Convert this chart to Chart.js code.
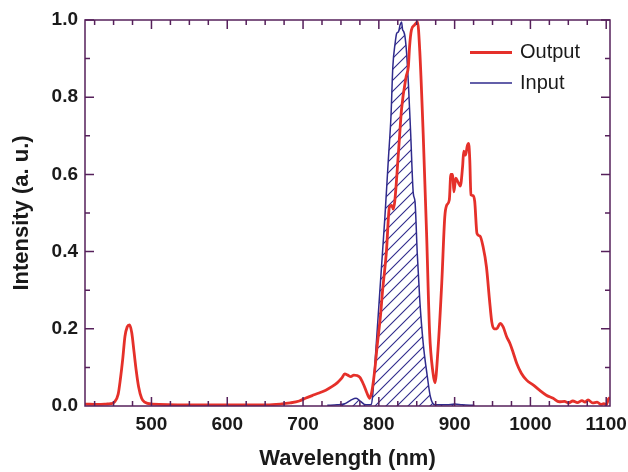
<!DOCTYPE html>
<html lang="en">
<head>
<meta charset="UTF-8">
<title>Output / Input spectrum</title>
<script src="https://cdn.jsdelivr.net/npm/chart.js"></script>
<style>
    html, body { margin: 0; padding: 0; background: #fff; }
    #wrap { width: 628px; height: 472px; position: relative; }
</style>
</head>
<body>
<div id="wrap"><canvas id="spectrum"></canvas></div>
<script>
// values
const outputWavelength = [412, 430, 440, 446, 451, 456, 459, 462, 465, 468, 471, 474, 477, 480, 483, 487, 491, 501, 550, 602, 652, 670, 683, 695, 703, 712, 720, 730, 738, 745, 751, 755, 759, 763, 767, 771, 775, 780, 784, 788, 791, 795, 798, 802, 805, 810, 814, 817, 819, 821, 826, 830, 836, 839, 840.5, 843, 847, 851, 854, 858.5, 863, 867, 871.5, 874, 878, 883, 887, 889.5, 893, 895, 897.5, 899, 901.5, 904.5, 907.5, 910.5, 912, 914.5, 916.5, 918.5, 920, 921.5, 924.5, 926.5, 929.5, 933.5, 937.5, 942, 946, 949, 952, 955.5, 960, 964, 968.5, 973, 977, 982, 988, 995, 1004, 1012, 1021, 1030, 1038, 1045, 1050, 1056, 1062, 1068, 1072, 1076, 1082, 1088, 1093, 1097, 1100, 1103, 1105];
const outputIntensity = [0.005, 0.004, 0.005, 0.006, 0.01, 0.03, 0.07, 0.12, 0.18, 0.205, 0.21, 0.19, 0.14, 0.09, 0.05, 0.02, 0.01, 0.005, 0.003, 0.003, 0.003, 0.005, 0.008, 0.013, 0.02, 0.027, 0.033, 0.041, 0.05, 0.06, 0.072, 0.083, 0.08, 0.076, 0.08, 0.079, 0.074, 0.055, 0.035, 0.02, 0.04, 0.10, 0.16, 0.23, 0.30, 0.40, 0.516, 0.52, 0.51, 0.53, 0.66, 0.77, 0.853, 0.88, 0.93, 0.974, 0.987, 0.995, 0.92, 0.706, 0.447, 0.19, 0.085, 0.06, 0.145, 0.318, 0.49, 0.52, 0.534, 0.60, 0.60, 0.555, 0.59, 0.58, 0.57, 0.62, 0.66, 0.65, 0.672, 0.68, 0.637, 0.547, 0.545, 0.53, 0.447, 0.44, 0.413, 0.36, 0.275, 0.218, 0.2, 0.2, 0.214, 0.205, 0.18, 0.162, 0.14, 0.11, 0.085, 0.067, 0.054, 0.041, 0.028, 0.02, 0.011, 0.012, 0.008, 0.013, 0.009, 0.014, 0.01, 0.016, 0.008, 0.01, 0.004, 0.006, 0.003, 0.018, 0.022];

const inputWavelength = [732, 745, 755, 763, 770, 776, 781, 786, 790, 792, 794.5, 799, 803.5, 808, 812.5, 816, 818.5, 821.5, 823.5, 826, 828, 830, 831.3, 832.8, 834.5, 836.7, 839, 842, 845.5, 847.7, 850.7, 854, 858.5, 864, 868, 874, 890, 900, 910, 926];
const inputIntensity = [0.002, 0.003, 0.006, 0.015, 0.02, 0.012, 0.004, 0.003, 0.004, 0.03, 0.10, 0.23, 0.36, 0.49, 0.637, 0.75, 0.88, 0.94, 0.965, 0.97, 0.987, 0.995, 0.975, 0.97, 0.957, 0.913, 0.835, 0.706, 0.55, 0.53, 0.395, 0.275, 0.163, 0.076, 0.024, 0.003, 0.003, 0.005, 0.003, 0.002];

const xTickLabels = [500, 600, 700, 800, 900, 1000, 1100];
const yTickLabels = [0, 0.2, 0.4, 0.6, 0.8, 1.0];

const axisColor = '#56205b';
const redLine = '#e5302a';
const blueLine = '#2f2a8c';
const fontFamily = '"Liberation Sans", Arial, Helvetica, sans-serif';

const canvas = document.getElementById('spectrum');
const ctx = canvas.getContext('2d');

function hatchPattern(color) {
    const size = 11;
    const tile = document.createElement('canvas');
    tile.width = size;
    tile.height = size;
    const g = tile.getContext('2d');
    g.strokeStyle = color;
    g.lineWidth = 1.1;
    g.beginPath();
    g.moveTo(0, size); g.lineTo(size, 0);
    g.moveTo(-1, 1); g.lineTo(1, -1);
    g.moveTo(size - 1, size + 1); g.lineTo(size + 1, size - 1);
    g.stroke();
    return ctx.createPattern(tile, 'repeat');
}

// box round the plot with inward ticks on all four sides
const frameTicks = {
    id: 'frameTicks',
    afterDatasetsDraw(chart) {
        const { ctx, chartArea: a, scales: { x, y } } = chart;
        ctx.save();
        ctx.strokeStyle = axisColor;
        ctx.lineWidth = 1.5;
        ctx.beginPath();
        for (let v = 425; v <= 1100; v += 25) {
            const px = x.getPixelForValue(v);
            const len = v % 100 === 0 ? 9 : 5;
            ctx.moveTo(px, a.bottom); ctx.lineTo(px, a.bottom - len);
            ctx.moveTo(px, a.top); ctx.lineTo(px, a.top + len);
        }
        for (let i = 1; i <= 10; i++) {
            const py = y.getPixelForValue(i / 10);
            const len = i % 2 === 0 ? 9 : 5;
            ctx.moveTo(a.left, py); ctx.lineTo(a.left + len, py);
            ctx.moveTo(a.right, py); ctx.lineTo(a.right - len, py);
        }
        ctx.stroke();
        ctx.strokeRect(a.left, a.top, a.right - a.left, a.bottom - a.top);
        ctx.restore();
    }
};

const innerLegend = {
    id: 'innerLegend',
    afterDraw(chart) {
        const ctx = chart.ctx;
        ctx.save();
        ctx.font = '20px ' + fontFamily;
        ctx.textBaseline = 'middle';
        ctx.fillStyle = '#1a1a1a';
        chart.data.datasets.forEach((ds, i) => {
            const yy = 52.5 + i * 30.5;
            ctx.strokeStyle = ds.borderColor;
            ctx.lineWidth = ds.borderWidth;
            ctx.beginPath();
            ctx.moveTo(470, yy);
            ctx.lineTo(512, yy);
            ctx.stroke();
            ctx.fillText(ds.label, 520, yy);
        });
        ctx.restore();
    }
};

new Chart(ctx, {
    type: 'line',
    data: {
        datasets: [
            {
                label: 'Output',
                data: outputWavelength.map((w, i) => ({ x: w, y: outputIntensity[i] })),
                borderColor: redLine,
                borderWidth: 2.8,
                pointRadius: 0,
                cubicInterpolationMode: 'monotone',
                fill: false
            },
            {
                label: 'Input',
                data: inputWavelength.map((w, i) => ({ x: w, y: inputIntensity[i] })),
                borderColor: blueLine,
                borderWidth: 1.5,
                pointRadius: 0,
                cubicInterpolationMode: 'monotone',
                fill: 'origin',
                backgroundColor: hatchPattern(blueLine)
            }
        ]
    },
    options: {
        responsive: true,
        maintainAspectRatio: false,
        animation: false,
        devicePixelRatio: 1,
        layout: { padding: { top: 20, right: 18, left: 0, bottom: 0 } },
        plugins: { legend: { display: false }, tooltip: { enabled: false } },
        scales: {
            x: {
                type: 'linear',
                min: 412.3,
                max: 1105,
                afterBuildTicks: s => { s.ticks = xTickLabels.map(v => ({ value: v })); },
                afterFit: s => { s.height = 66; s.paddingLeft = 0; s.paddingRight = 0; },
                grid: { display: false, drawTicks: false },
                border: { display: false },
                ticks: {
                    padding: 7,
                    color: '#1a1a1a',
                    maxRotation: 0,
                    font: { family: fontFamily, size: 19, weight: 'bold' },
                    callback: v => String(v)
                },
                title: {
                    display: true,
                    text: 'Wavelength (nm)',
                    color: '#1a1a1a',
                    padding: { top: 0, bottom: 2 },
                    font: { family: fontFamily, size: 22, weight: 'bold', lineHeight: 1 }
                }
            },
            y: {
                min: 0,
                max: 1.0,
                afterBuildTicks: s => { s.ticks = yTickLabels.map(v => ({ value: v })); },
                afterFit: s => { s.width = 85; s.paddingTop = 0; s.paddingBottom = 0; },
                grid: { display: false, drawTicks: false },
                border: { display: false },
                ticks: {
                    padding: 7,
                    color: '#1a1a1a',
                    font: { family: fontFamily, size: 19, weight: 'bold' },
                    callback: v => Number(v).toFixed(1)
                },
                title: {
                    display: true,
                    text: 'Intensity (a. u.)',
                    color: '#1a1a1a',
                    padding: { top: 11, bottom: 0 },
                    font: { family: fontFamily, size: 22, weight: 'bold', lineHeight: 1 }
                }
            }
        }
    },
    plugins: [frameTicks, innerLegend]
});
</script>
</body>
</html>
